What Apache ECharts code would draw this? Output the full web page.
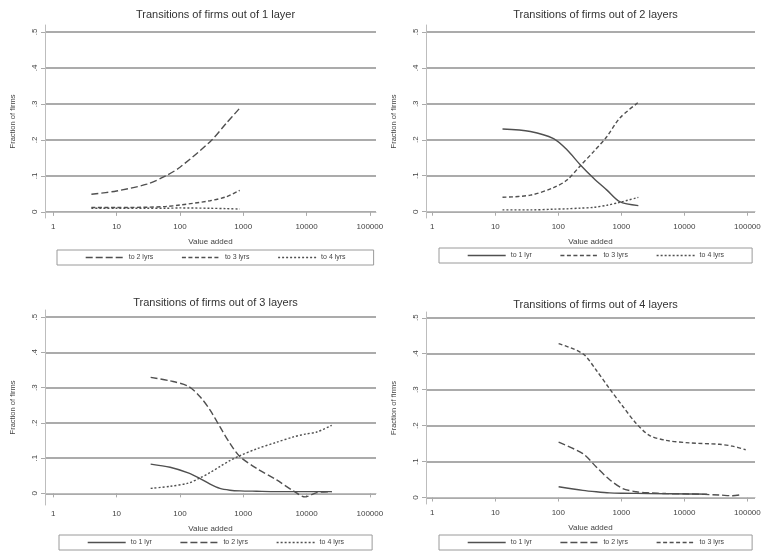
<!DOCTYPE html>
<html>
<head>
<meta charset="utf-8">
<script src="https://cdn.jsdelivr.net/npm/echarts@6.0.0/dist/echarts.min.js"></script>
<style>
  html, body { margin: 0; padding: 0; background: #fff; }
  #chart { width: 767px; height: 554px; }
</style>
</head>
<body>
<div id="chart"></div>
<script>
// tick values
const xTicks = [1, 10, 100, 1000, 10000, 100000];
const yTicks = [0, 0.1, 0.2, 0.3, 0.4, 0.5];

const titles = [
  "Transitions of firms out of 1 layer",
  "Transitions of firms out of 2 layers",
  "Transitions of firms out of 3 layers",
  "Transitions of firms out of 4 layers",
];

// panel 1: out of 1 layer
const p1X = [4, 10, 30, 60, 100, 300, 540, 880];
const p1To2 = [0.049, 0.058, 0.077, 0.1, 0.124, 0.195, 0.246, 0.288];
const p1To3 = [0.012, 0.012, 0.013, 0.015, 0.019, 0.031, 0.042, 0.06];
const p1To4 = [0.01, 0.01, 0.01, 0.01, 0.011, 0.01, 0.009, 0.008];

// panel 2: out of 2 layers
const p2X = [13, 36, 84, 137, 224, 363, 590, 940, 1860];
const p2To1 = [0.23, 0.223, 0.203, 0.172, 0.13, 0.093, 0.06, 0.028, 0.017];
const p2To3 = [0.04, 0.046, 0.067, 0.088, 0.128, 0.167, 0.209, 0.26, 0.304];
const p2To4 = [0.005, 0.005, 0.007, 0.008, 0.01, 0.012, 0.018, 0.026, 0.04];

// panel 3: out of 3 layers
const p3X = [34.5, 70, 135, 208, 300, 428, 616, 890, 1620, 3370, 6200, 9500, 14500, 25000];
const p3To1 = [0.083, 0.074, 0.058, 0.042, 0.026, 0.014, 0.009, 0.007, 0.006, 0.005, 0.005, 0.005, 0.005, 0.005];
const p3To2 = [0.329, 0.319, 0.304, 0.274, 0.236, 0.189, 0.142, 0.104, 0.071, 0.038, 0.007, -0.01, 0.002, 0.005];
const p3To4 = [0.014, 0.02, 0.029, 0.044, 0.059, 0.076, 0.093, 0.107, 0.126, 0.145, 0.16, 0.168, 0.174, 0.193];

// panel 4: out of 4 layers
const p4X = [101, 245, 400, 647, 1050, 1720, 2780, 5100, 12000, 35800, 57900, 94000];
const p4To3 = [0.428, 0.4, 0.354, 0.303, 0.254, 0.206, 0.173, 0.159, 0.152, 0.148, 0.143, 0.133];
const p4X2 = [101, 245, 400, 647, 1050, 1720, 2780, 5100, 12000, 35800, 57900, 79000];
const p4To2 = [0.154, 0.122, 0.085, 0.05, 0.025, 0.016, 0.013, 0.011, 0.01, 0.007, 0.005, 0.008];
const p4X1 = [101, 245, 400, 647, 1050, 2780, 12000, 23000];
const p4To1 = [0.03, 0.02, 0.016, 0.013, 0.012, 0.011, 0.01, 0.009];

const FONT = "Liberation Sans, Arial, sans-serif";
const TXT = "#444";
const LINE = "#505050";

const dash = {
  "to 1 lyr": "solid",
  "to 2 lyrs": [7, 3],
  "to 3 lyrs": [4, 2.5],
  "to 4 lyrs": [2, 2],
};

// pixel boxes of the four plot regions + axis ranges
const panels = [
  { left: 45, top: 25, width: 331, height: 193, xmin: 0.74, xmax: 125000, ymin: -0.017, ymax: 0.519, legendTop: 250, legendLeft: 57 },
  { left: 426, top: 25, width: 329, height: 193, xmin: 0.794, xmax: 132000, ymin: -0.0175, ymax: 0.519, legendTop: 248, legendLeft: 439 },
  { left: 45, top: 310, width: 331, height: 195, xmin: 0.74, xmax: 125000, ymin: -0.033, ymax: 0.52, legendTop: 535, legendLeft: 59 },
  { left: 426, top: 312, width: 329, height: 192, xmin: 0.794, xmax: 132000, ymin: -0.018, ymax: 0.516, legendTop: 535, legendLeft: 439 },
];

const legends = [
  ["to 2 lyrs", "to 3 lyrs", "to 4 lyrs"],
  ["to 1 lyr", "to 3 lyrs", "to 4 lyrs"],
  ["to 1 lyr", "to 2 lyrs", "to 4 lyrs"],
  ["to 1 lyr", "to 2 lyrs", "to 3 lyrs"],
];

function line(name, xs, ys, gi) {
  return {
    type: "line",
    name: name,
    xAxisIndex: gi,
    yAxisIndex: gi,
    data: xs.map((x, i) => [x, ys[i]]),
    symbol: "none",
    smooth: 0.3,
    silent: true,
    lineStyle: { color: LINE, width: 1.4, type: dash[name] },
    itemStyle: { color: LINE },
  };
}

const series = [
  line("to 2 lyrs", p1X, p1To2, 0),
  line("to 3 lyrs", p1X, p1To3, 0),
  line("to 4 lyrs", p1X, p1To4, 0),
  line("to 1 lyr", p2X, p2To1, 1),
  line("to 3 lyrs", p2X, p2To3, 1),
  line("to 4 lyrs", p2X, p2To4, 1),
  line("to 1 lyr", p3X, p3To1, 2),
  line("to 2 lyrs", p3X, p3To2, 2),
  line("to 4 lyrs", p3X, p3To4, 2),
  line("to 1 lyr", p4X1, p4To1, 3),
  line("to 2 lyrs", p4X2, p4To2, 3),
  line("to 3 lyrs", p4X, p4To3, 3),
];

const option = {
  animation: false,
  backgroundColor: "#fff",
  textStyle: { fontFamily: FONT },
  title: panels.map((p, i) => ({
    text: titles[i],
    left: p.left + p.width / 2,
    top: p.top - (i < 2 ? 21 : 18),
    textAlign: "center",
    textStyle: { fontSize: 11, fontWeight: "normal", color: "#333", fontFamily: FONT },
  })),
  grid: panels.map((p) => ({
    left: p.left, top: p.top, width: p.width, height: p.height,
  })),
  legend: panels.map((p, i) => ({
    data: legends[i],
    left: p.legendLeft,
    top: p.legendTop,
    orient: "horizontal",
    padding: [4, 28],
    itemGap: 28,
    itemWidth: 38,
    itemHeight: 8,
    borderColor: "#9a9a9a",
    borderWidth: 1,
    selectedMode: false,
    itemStyle: { opacity: 0 },
    lineStyle: { width: 1.4 },
    textStyle: { fontSize: 7, color: TXT, fontFamily: FONT },
  })),
  xAxis: panels.map((p, i) => ({
    type: "log",
    logBase: 10,
    gridIndex: i,
    min: p.xmin,
    max: p.xmax,
    name: "Value added",
    nameLocation: "middle",
    nameGap: 20,
    nameTextStyle: { fontSize: 8, color: TXT },
    axisLine: { show: true, lineStyle: { color: "#bdbdbd", width: 1 } },
    axisTick: { show: true, length: 4, customValues: xTicks, lineStyle: { color: "#aaa" } },
    axisLabel: {
      customValues: xTicks,
      fontSize: 8,
      color: TXT,
      margin: 5,
      formatter: (v) => String(Math.round(v)),
    },
    splitLine: { show: false },
  })),
  yAxis: panels.map((p, i) => ({
    type: "value",
    gridIndex: i,
    min: p.ymin,
    max: p.ymax,
    name: "Fraction of firms",
    nameLocation: "middle",
    nameGap: 28,
    nameTextStyle: { fontSize: 7.5, color: TXT },
    axisLine: { show: true, lineStyle: { color: "#bdbdbd", width: 1 } },
    axisTick: { show: true, length: 4, customValues: yTicks, lineStyle: { color: "#aaa" } },
    axisLabel: {
      customValues: yTicks,
      rotate: 90,
      fontSize: 8,
      color: TXT,
      margin: 6,
      formatter: (v) => (Math.abs(v) < 1e-9 ? "0" : String(Math.round(v * 10) / 10).replace("0.", ".")),
    },
    splitLine: { show: true, lineStyle: { color: "#8f8f8f", width: 1.6 } },
  })),
  series: series,
};

const chart = echarts.init(document.getElementById("chart"));
chart.setOption(option);
</script>
</body>
</html>
